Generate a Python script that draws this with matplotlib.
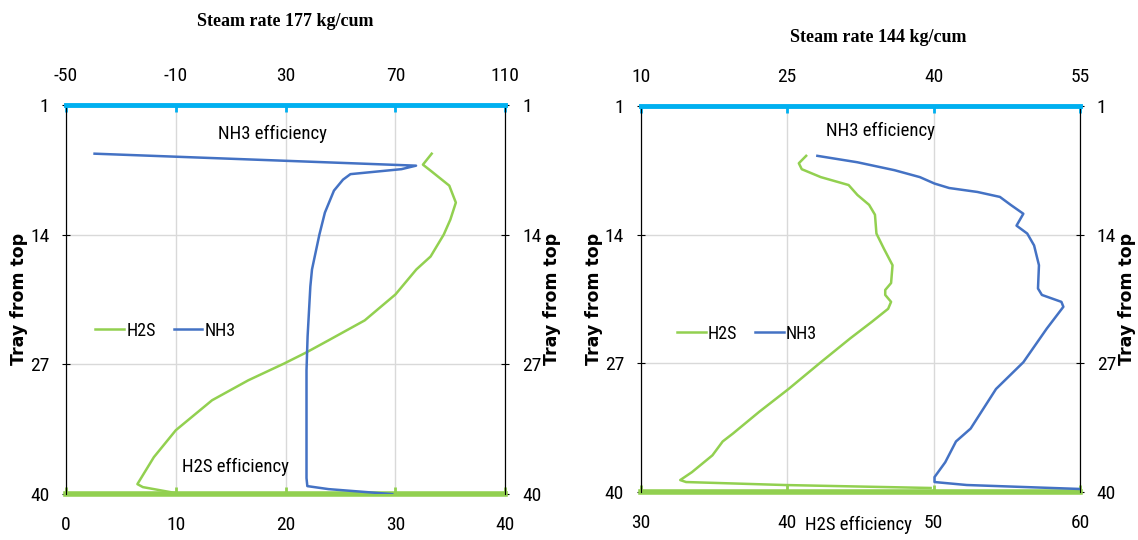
import matplotlib.pyplot as plt
from matplotlib import font_manager

# ---- data (tray numbers counted from the top) ----
# left panel, steam rate 177 kg/cum
h2s_177_tray = [5.9, 7.0, 7.6, 9.1, 10.8, 12.5, 14.0, 16.2, 17.5, 20.0, 22.6, 24.6,
                25.8, 26.9, 28.6, 30.6, 33.6, 36.3, 39.0, 39.3, 39.9]
h2s_177_eff = [33.3, 32.5, 33.2, 34.9, 35.5, 35.0, 34.4, 33.2, 31.9, 30.0, 27.2, 23.9,
               21.9, 19.9, 16.6, 13.3, 10.0, 8.0, 6.5, 7.0, 10.0]
nh3_177_tray = [5.9, 7.1, 7.45, 7.95, 8.5, 9.6, 11.8, 14.0, 16.2, 17.5, 19.2, 24.2,
                27.6, 38.4, 39.2, 39.5, 40.0]
nh3_177_eff = [-39.6, 77.5, 72.2, 53.6, 50.9, 47.6, 44.3, 42.3, 40.6, 39.6, 39.0, 38.0,
               37.6, 37.6, 37.9, 45.6, 68.8]

# right panel, steam rate 144 kg/cum
h2s_144_tray = [6.05, 6.8, 7.4, 8.2, 9.0, 10.0, 11.0, 12.0, 13.9, 15.4, 17.1, 18.9,
                19.6, 20.1, 20.8, 21.5, 22.8, 24.5, 26.9, 29.6, 31.9, 34.1, 34.9,
                36.3, 38.0, 38.8, 39.0, 39.3, 39.6]
h2s_144_eff = [41.3, 40.8, 41.0, 42.3, 44.2, 44.8, 45.6, 46.0, 46.1, 46.6, 47.2, 47.1,
               46.7, 46.7, 47.1, 46.9, 45.8, 44.3, 42.3, 40.1, 38.1, 36.3, 35.6,
               34.9, 33.5, 32.7, 33.1, 39.8, 49.8]
nh3_144_tray = [6.05, 6.7, 7.5, 8.2, 8.85, 9.3, 9.7, 10.2, 11.0, 11.9, 13.1, 13.9,
                15.1, 17.1, 19.45, 20.1, 20.8, 21.3, 23.5, 26.9, 29.6, 33.6, 34.9,
                37.0, 38.5, 39.0, 39.3, 39.7]
nh3_144_eff = [28.1, 32.2, 36.0, 38.6, 40.1, 41.6, 44.5, 46.8, 47.9, 49.2, 48.5, 49.6,
               50.3, 50.8, 50.7, 51.1, 53.1, 53.3, 51.6, 49.2, 46.4, 43.8, 42.3,
               41.2, 40.1, 40.1, 43.4, 55.0]

tray_ticks = [1, 14, 27, 40]

GREEN = "#92D050"
BLUE = "#4472C4"
CYAN = "#00B0F0"

# narrow sans if one is around, otherwise condensed DejaVu / Roboto
fonts = font_manager.fontManager.ttflist
names = {f.name for f in fonts}
stretch = "normal"
if "Liberation Sans Narrow" in names:
    tick_font = "Liberation Sans Narrow"
elif "Roboto Condensed" in names:
    tick_font = "Roboto Condensed"
elif any(f.name == "DejaVu Sans" and f.stretch == "condensed" for f in fonts):
    tick_font = "DejaVu Sans"
    stretch = "condensed"
else:
    tick_font = "Roboto"
plt.rcParams["font.family"] = [tick_font, "DejaVu Sans"]
plt.rcParams["font.stretch"] = stretch
plt.rcParams["axes.unicode_minus"] = False


def panel(rect, title, title_xy, h2s_t, h2s_v, nh3_t, nh3_v,
          bot_lim, bot_ticks, top_lim, top_ticks, h2s_lbl_xy, nh3_lbl_xy, leg_xy):
    ax = fig.add_axes(rect)
    ax.set_xlim(*bot_lim)
    ax.set_ylim(40, 1)
    ax.set_xticks(bot_ticks)
    ax.set_yticks(tray_ticks)
    ax.grid(True, color="#d9d9d9", lw=1)
    l1, = ax.plot(h2s_v, h2s_t, color=GREEN, lw=1.8, label="H2S")

    axt = ax.twiny()
    axt.set_xlim(*top_lim)
    axt.set_xticks(top_ticks)
    l2, = axt.plot(nh3_v, nh3_t, color=BLUE, lw=1.8, label="NH3")

    for a in (ax, axt):
        for s in a.spines.values():
            s.set_color("black")
            s.set_linewidth(0.8)
    ax.spines["top"].set_visible(False)
    axt.spines["bottom"].set_visible(False)
    ax.spines["bottom"].set_color(GREEN)
    ax.spines["bottom"].set_linewidth(4)
    axt.spines["top"].set_color(CYAN)
    axt.spines["top"].set_linewidth(3.5)

    ax.tick_params(axis="x", direction="in", color=GREEN, width=2, length=5,
                   labelsize=14, pad=16)
    axt.tick_params(axis="x", direction="in", color=CYAN, width=2, length=5,
                    labelsize=14, pad=14)
    ax.tick_params(axis="y", right=True, labelright=True, labelsize=14,
                   direction="inout", length=6, pad=9)

    ax.legend(handles=[l1, l2], loc="center left", bbox_to_anchor=leg_xy, ncol=2,
              frameon=False, fontsize=13, handlelength=1.6, columnspacing=1.0,
              handletextpad=0.1)

    ax.text(*h2s_lbl_xy, "H2S efficiency", transform=ax.transAxes, fontsize=13.5,
            ha="center", va="center")
    ax.text(*nh3_lbl_xy, "NH3 efficiency", transform=ax.transAxes, fontsize=13.5,
            ha="center", va="center")

    x0, y0, w, h = rect
    fig.text(*title_xy, title, ha="center", va="center", fontsize=13,
             fontweight="bold", family="Liberation Serif", fontstretch="normal")
    for xl in (x0 - 0.041, x0 + w + 0.041):
        fig.text(xl, y0 + h / 2, "Tray from top", rotation=90, ha="center",
                 va="center", fontsize=12.5, fontweight="bold",
                 family="DejaVu Sans", fontstretch="normal")
    return ax


fig = plt.figure(figsize=(11.38, 5.4), dpi=100)

panel([0.058, 0.085, 0.386, 0.721], "Steam rate 177 kg/cum", (0.251, 0.96),
      h2s_177_tray, h2s_177_eff, nh3_177_tray, nh3_177_eff,
      (0, 40), [0, 10, 20, 30, 40], (-50, 110), [-50, -10, 30, 70, 110],
      (0.385, 0.07), (0.47, 0.925), (0.03, 0.42))

panel([0.563, 0.089, 0.386, 0.715], "Steam rate 144 kg/cum", (0.7715, 0.93),
      h2s_144_tray, h2s_144_eff, nh3_144_tray, nh3_144_eff,
      (30, 60), [30, 40, 50, 60], (10, 55), [10, 25, 40, 55],
      (0.495, -0.085), (0.545, 0.935), (0.045, 0.41))

fig.savefig("out.png", dpi=100)
